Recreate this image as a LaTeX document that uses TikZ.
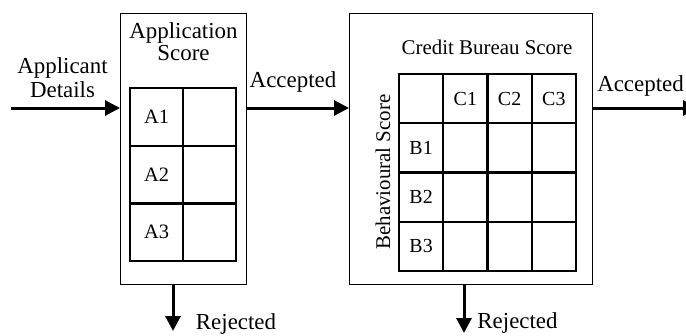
\documentclass[tikz,border=0pt]{standalone}
\usepackage{fontspec}
\setmainfont{Liberation Serif}
\usetikzlibrary{arrows.meta,positioning}

\tikzset{
  box/.style  = {draw, line width=1bp, inner sep=0, outer sep=0},
  cell/.style = {draw, line width=2.3bp, inner sep=0, outer sep=0,
                 minimum width=53bp, minimum height=57.7bp,
                 font=\fontsize{20.5}{22}\selectfont},
  ccell/.style= {draw, line width=2.3bp, inner sep=0, outer sep=0,
                 minimum width=44.25bp, minimum height=49.25bp,
                 font=\fontsize{20}{22}\selectfont},
  flow/.style = {line width=3bp, -{Triangle[length=15bp,width=15bp]}},
  lbl/.style  = {inner sep=0, anchor=base, font=\fontsize{23}{24}\selectfont},
  slbl/.style = {inner sep=0, anchor=base, font=\fontsize{21}{22}\selectfont}
}

\begin{document}
\begin{tikzpicture}[x=1bp, y=-1bp]
  \useasboundingbox (0,0) rectangle (686,335);

  % the two scoring stages
  \node [box, minimum width=126bp, minimum height=271bp] (app) at (183,148.5) {};
  \node [box, minimum width=243bp, minimum height=271bp] (credit) at (470.5,148.5) {};

  % application score table
  \node [cell] (a1) at (156.5,116.8) {A1};
  \node [cell, below=0pt of a1] (a2) {A2};
  \node [cell, below=0pt of a2] (a3) {A3};
  \foreach \r in {1,2,3}
    \node [cell, right=0pt of a\r] (s\r) {};

  % credit bureau / behavioural table
  \node [ccell] (h0) at (421.1,98.6) {};
  \foreach \c in {1,2,3}
    \node [ccell] (h\c) at ({421.1+44.25*\c},98.6) {C\c};
  \foreach \r in {1,2,3} {
    \node [ccell] (b\r) at (421.1,{98.6+49.25*\r}) {B\r};
    \foreach \c in {1,2,3}
      \node [ccell] (m\r\c) at ({421.1+44.25*\c},{98.6+49.25*\r}) {};
  }

  % labels
  \node [lbl, align=center] (details) at (62.5,97) {Applicant\\Details};
  \node [lbl, align=center, font=\fontsize{23}{20}\selectfont] (apptitle) at (183.5,60) {Application\\Score};
  \node [slbl] (cbtitle) at (487,54) {Credit Bureau Score};
  \node [slbl, rotate=90] (bhtitle) at (390,172) {Behavioural Score};

  % flow between stages
  \coordinate (src) at (11,108);
  \coordinate (out) at (698,108);
  \coordinate (rej1) at (173,331);
  \coordinate (rej2) at (464,333);

  \draw [flow] (src) -- (src -| app.west);
  \draw [flow] (app.east |- src) -- (credit.west |- src);
  \draw [flow] (credit.east |- src) -- (out);
  \draw [flow] (rej1 |- app.south) -- (rej1);
  \draw [flow] (rej2 |- credit.south) -- (rej2);

  \node [lbl] (acc1) at (293,87) {Accepted};
  \node [lbl] (acc2) at (640.5,91) {Accepted};
  \node [lbl] (rejl1) at (236,329) {Rejected};
  \node [lbl] (rejl2) at (517.5,328) {Rejected};
\end{tikzpicture}
\end{document}
